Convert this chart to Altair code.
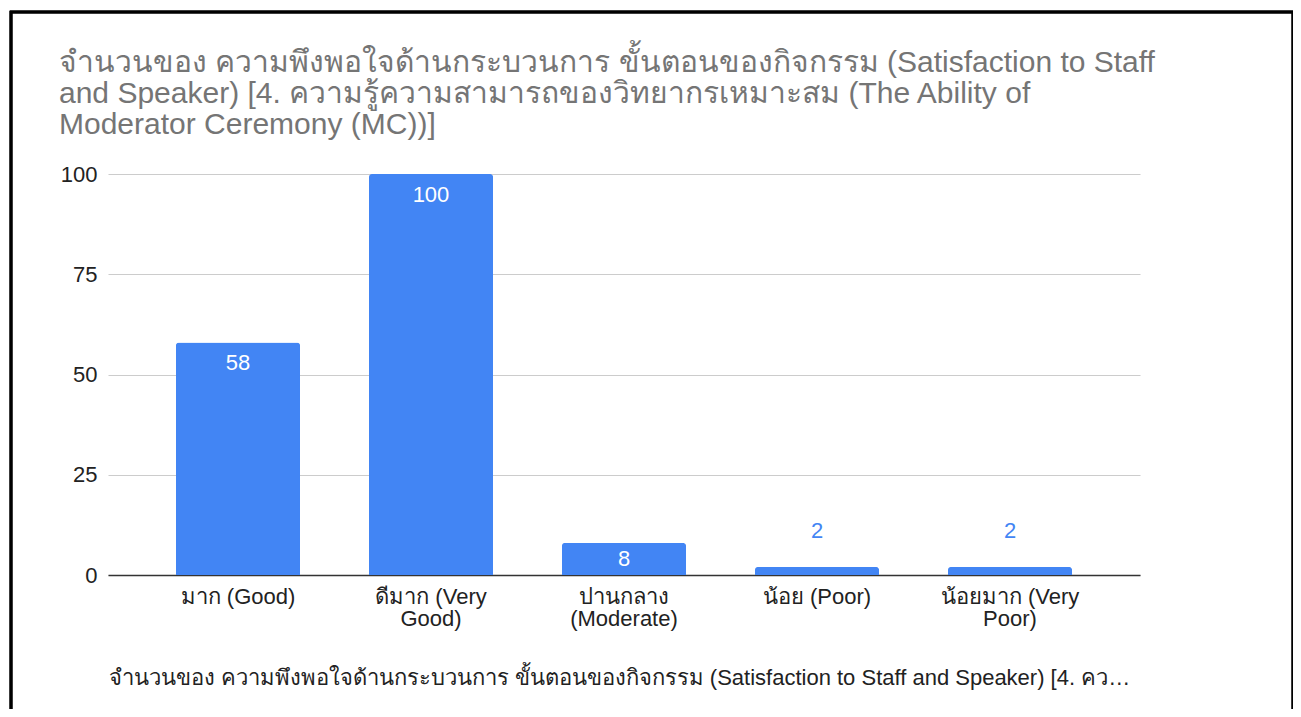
import altair as alt
import pandas as pd

categories = ["มาก (Good)", "ดีมาก (Very Good)", "ปานกลาง (Moderate)", "น้อย (Poor)", "น้อยมาก (Very Poor)"]
values = [58, 100, 8, 2, 2]
y_ticks = [0, 25, 50, 75, 100]
title_lines = [
    "จำนวนของ ความพึงพอใจด้านกระบวนการ ขั้นตอนของกิจกรรม  (Satisfaction to Staff",
    "and Speaker) [4. ความรู้ความสามารถของวิทยากรเหมาะสม (The Ability of",
    "Moderator Ceremony (MC))]",
]
x_title = "จำนวนของ ความพึงพอใจด้านกระบวนการ ขั้นตอนของกิจกรรม  (Satisfaction to Staff and Speaker) [4. คว…"

df = pd.DataFrame({"category": categories, "value": values})

FONT = "Liberation Sans"
BLUE = "#4285F4"
PLOT_W, PLOT_H = 1032, 401

wrap_expr = (
    "length(datum.label) > 12 ? "
    "[substring(datum.label, 0, lastindexof(datum.label, ' ')), "
    "substring(datum.label, lastindexof(datum.label, ' ') + 1)] : datum.label"
)

x_scale = alt.Scale(paddingInner=0.357, paddingOuter=0.352)
y_scale = alt.Scale(domain=[0, 100], nice=False)

x_axis = alt.Axis(
    grid=False,
    labelAngle=0,
    labelExpr=wrap_expr,
    labelFontSize=22,
    labelColor="#222222",
    labelFont=FONT,
    labelLineHeight=22,
    labelPadding=11,
    labelLimit=300,
    labelOverlap=False,
    ticks=False,
    domainColor="#333333",
    domainWidth=1.5,
    titleFont=FONT,
    titleFontSize=22,
    titleFontWeight="normal",
    titleColor="#222222",
    titleAnchor="start",
    titlePadding=38,
    titleLimit=1200,
)
y_axis = alt.Axis(
    values=y_ticks,
    labelFontSize=22,
    labelColor="#222222",
    labelFont=FONT,
    labelPadding=11,
    ticks=False,
    domain=False,
    gridColor="#cccccc",
    gridWidth=1.2,
)


def xe():
    return alt.X("category:N", sort=categories, scale=x_scale, title=x_title, axis=x_axis)


def ye(field="value:Q"):
    return alt.Y(field, scale=y_scale, title=None, axis=y_axis)


base = alt.Chart(df)

bars = base.mark_bar(color=BLUE, cornerRadiusTopLeft=3, cornerRadiusTopRight=3).encode(
    x=xe(), y=ye()
)

lab_big = base.transform_filter("datum.value >= 20").mark_text(
    baseline="middle", dy=21, color="white", fontSize=22, font=FONT
).encode(x=xe(), y=ye(), text="value:Q")

lab_mid = base.transform_filter("datum.value >= 5 && datum.value < 20").transform_calculate(
    mid="datum.value / 2"
).mark_text(baseline="middle", color="white", fontSize=22, font=FONT).encode(
    x=xe(), y=ye("mid:Q"), text="value:Q"
)

lab_small = base.transform_filter("datum.value < 5").mark_text(
    baseline="middle", dy=-36, color=BLUE, fontSize=22, font=FONT
).encode(x=xe(), y=ye(), text="value:Q")

frame = base.mark_rect(fill=None, stroke="black", strokeWidth=2.5).encode(
    x=alt.value(-97), x2=alt.value(1185), y=alt.value(-162), y2=alt.value(700)
)

chart = (
    alt.layer(bars, lab_big, lab_mid, lab_small, frame)
    .properties(
        width=PLOT_W,
        height=PLOT_H,
        autosize=alt.AutoSizeParams(type="none"),
        padding={"left": 100, "top": 166, "right": 153, "bottom": 134},
        view=alt.ViewBackground(strokeWidth=0, stroke="transparent"),
        title=alt.TitleParams(
            text=title_lines,
            anchor="start",
            frame="group",
            dx=-49,
            font=FONT,
            fontSize=30,
            fontWeight="normal",
            color="#757575",
            lineHeight=31,
            offset=-129,
        ),
    )
    .configure_view(strokeWidth=0, stroke="transparent")
    .configure_axisX(grid=False)
    .configure(background="white")
)

chart.save("out.html", embed_options={"renderer": "svg", "actions": False})
